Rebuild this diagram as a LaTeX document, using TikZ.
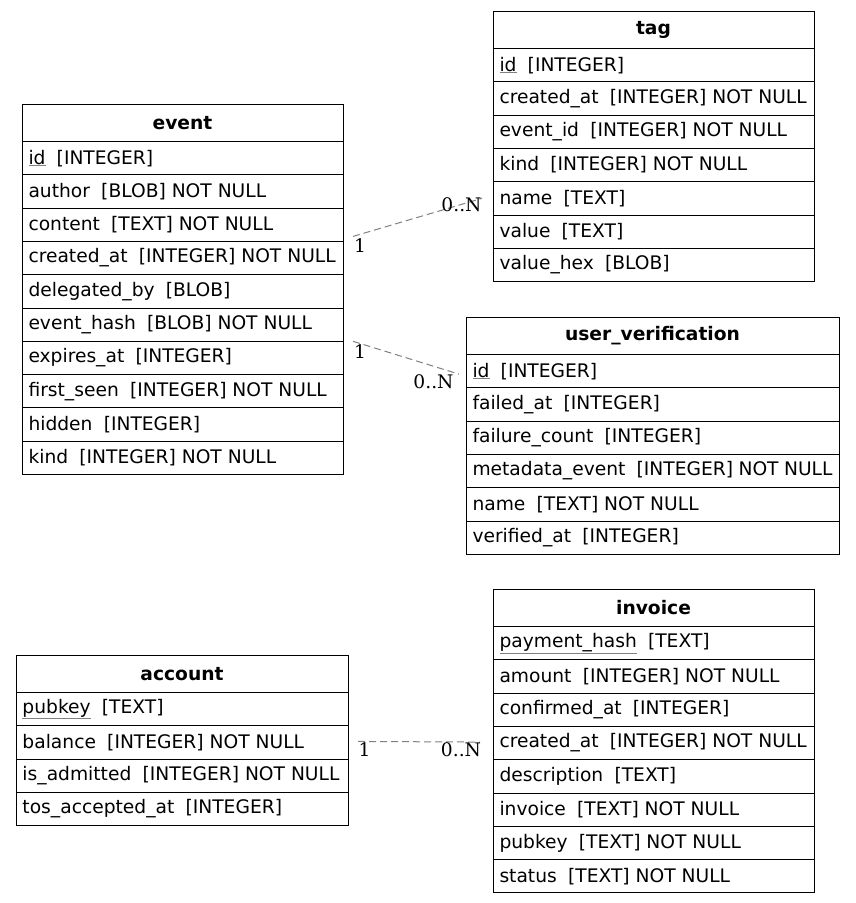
\documentclass[tikz,border=0pt]{standalone}
\usepackage{fontspec}
\setmainfont{DejaVu Sans}
\newfontfamily\cardfont{DejaVu Serif}
\usepackage{tikz}

\newcommand{\gap}{\hspace{0.6em}}
\newcommand{\pkey}[1]{\textcolor{gray}{\underline{\textcolor{black}{#1}}}}

\tikzset{
  tblhead/.style={draw=black, line width=1pt, outer sep=0pt, anchor=north west, minimum height=37.5pt,
    minimum width=#1, inner xsep=0pt, font=\fontsize{18.67}{22}\selectfont\bfseries},
  tblrow/.style={draw=black, line width=1pt, outer sep=0pt, anchor=north west, minimum height=33.3pt,
    inner xsep=6.5pt, inner ysep=2pt, font=\fontsize{18.67}{22}\selectfont,
    execute at begin node={\hbox to #1\bgroup}, execute at end node={\hfil\egroup}},
  rel/.style={draw=gray, line width=1pt, dash pattern=on 7pt off 4pt},
  card/.style={font=\cardfont\fontsize{18.67}{22}\selectfont, inner sep=0pt}
}

\begin{document}
\begin{tikzpicture}[x=1pt,y=-1pt]
    \useasboundingbox (0,0) rectangle (856,903);

    % event
    \node[tblhead=321pt] (event) at (22,104) {event};
    \node[tblrow=308pt] (event-id) at (event.south west) {\pkey{id}\gap[INTEGER]};
    \node[tblrow=308pt] (event-author) at (event-id.south west) {author\gap[BLOB] NOT NULL};
    \node[tblrow=308pt] (event-content) at (event-author.south west) {content\gap[TEXT] NOT NULL};
    \node[tblrow=308pt] (event-created) at (event-content.south west) {created\_at\gap[INTEGER] NOT NULL};
    \node[tblrow=308pt] (event-delegated) at (event-created.south west) {delegated\_by\gap[BLOB]};
    \node[tblrow=308pt] (event-hash) at (event-delegated.south west) {event\_hash\gap[BLOB] NOT NULL};
    \node[tblrow=308pt] (event-expires) at (event-hash.south west) {expires\_at\gap[INTEGER]};
    \node[tblrow=308pt] (event-seen) at (event-expires.south west) {first\_seen\gap[INTEGER] NOT NULL};
    \node[tblrow=308pt] (event-hidden) at (event-seen.south west) {hidden\gap[INTEGER]};
    \node[tblrow=308pt] (event-kind) at (event-hidden.south west) {kind\gap[INTEGER] NOT NULL};

    % tag
    \node[tblhead=321pt] (tag) at (493,11) {tag};
    \node[tblrow=308pt] (tag-id) at (tag.south west) {\pkey{id}\gap[INTEGER]};
    \node[tblrow=308pt] (tag-created) at (tag-id.south west) {created\_at\gap[INTEGER] NOT NULL};
    \node[tblrow=308pt] (tag-event) at (tag-created.south west) {event\_id\gap[INTEGER] NOT NULL};
    \node[tblrow=308pt] (tag-kind) at (tag-event.south west) {kind\gap[INTEGER] NOT NULL};
    \node[tblrow=308pt] (tag-name) at (tag-kind.south west) {name\gap[TEXT]};
    \node[tblrow=308pt] (tag-value) at (tag-name.south west) {value\gap[TEXT]};
    \node[tblrow=308pt] (tag-hex) at (tag-value.south west) {value\_hex\gap[BLOB]};

    % user_verification
    \node[tblhead=373pt] (uv) at (466,317) {user\_verification};
    \node[tblrow=360pt] (uv-id) at (uv.south west) {\pkey{id}\gap[INTEGER]};
    \node[tblrow=360pt] (uv-failed) at (uv-id.south west) {failed\_at\gap[INTEGER]};
    \node[tblrow=360pt] (uv-count) at (uv-failed.south west) {failure\_count\gap[INTEGER]};
    \node[tblrow=360pt] (uv-meta) at (uv-count.south west) {metadata\_event\gap[INTEGER] NOT NULL};
    \node[tblrow=360pt] (uv-name) at (uv-meta.south west) {name\gap[TEXT] NOT NULL};
    \node[tblrow=360pt] (uv-verified) at (uv-name.south west) {verified\_at\gap[INTEGER]};

    % invoice
    \node[tblhead=321pt] (inv) at (493,589) {invoice};
    \node[tblrow=308pt] (inv-hash) at (inv.south west) {\pkey{payment\_hash}\gap[TEXT]};
    \node[tblrow=308pt] (inv-amount) at (inv-hash.south west) {amount\gap[INTEGER] NOT NULL};
    \node[tblrow=308pt] (inv-confirmed) at (inv-amount.south west) {confirmed\_at\gap[INTEGER]};
    \node[tblrow=308pt] (inv-created) at (inv-confirmed.south west) {created\_at\gap[INTEGER] NOT NULL};
    \node[tblrow=308pt] (inv-desc) at (inv-created.south west) {description\gap[TEXT]};
    \node[tblrow=308pt] (inv-invoice) at (inv-desc.south west) {invoice\gap[TEXT] NOT NULL};
    \node[tblrow=308pt] (inv-pubkey) at (inv-invoice.south west) {pubkey\gap[TEXT] NOT NULL};
    \node[tblrow=308pt] (inv-status) at (inv-pubkey.south west) {status\gap[TEXT] NOT NULL};

    % account
    \node[tblhead=332pt] (acc) at (16,655) {account};
    \node[tblrow=319pt] (acc-pubkey) at (acc.south west) {\pkey{pubkey}\gap[TEXT]};
    \node[tblrow=319pt] (acc-balance) at (acc-pubkey.south west) {balance\gap[INTEGER] NOT NULL};
    \node[tblrow=319pt] (acc-admitted) at (acc-balance.south west) {is\_admitted\gap[INTEGER] NOT NULL};
    \node[tblrow=319pt] (acc-tos) at (acc-admitted.south west) {tos\_accepted\_at\gap[INTEGER]};

    % relations
    \draw[rel] ([xshift=10pt,yshift=5pt]event-content.south east) -- ([xshift=-11pt]tag-name.west);
    \draw[rel] ([xshift=10pt]event-expires.north east) -- ([xshift=-7pt,yshift=-3pt]uv-id.west);
    \draw[rel] ([xshift=10pt,yshift=1pt]acc-balance.east) -- ([xshift=-13pt,yshift=1pt]inv-created.west);

    \node[card] (c1a) at (360,246) {1};
    \node[card] (c1b) at (461.5,205) {0..N};
    \node[card] (c2a) at (360,351.5) {1};
    \node[card] (c2b) at (433.5,382) {0..N};
    \node[card] (c3a) at (364.5,749.5) {1};
    \node[card] (c3b) at (461,749.5) {0..N};
\end{tikzpicture}
\end{document}
